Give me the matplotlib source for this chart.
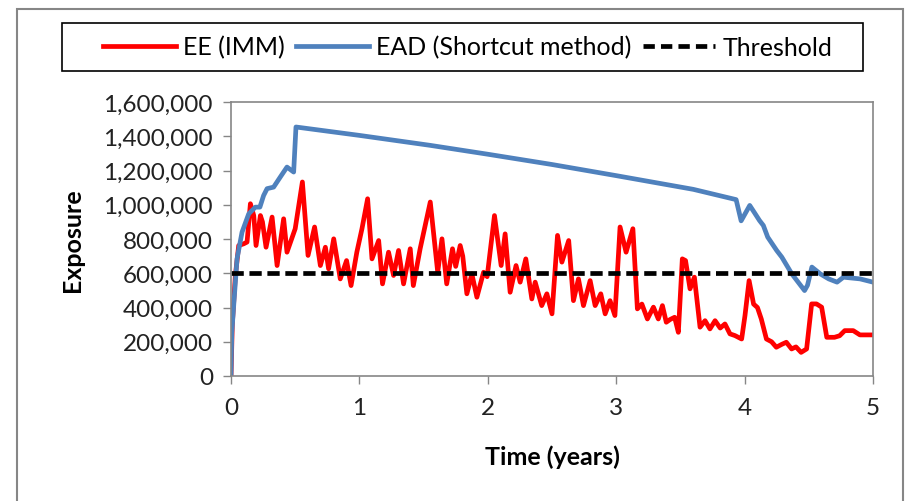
import matplotlib
matplotlib.use("Agg")
import matplotlib.pyplot as plt
import matplotlib.ticker as mtick
from matplotlib.lines import Line2D
from matplotlib.patches import Rectangle

plt.rcParams['font.family'] = ['Lato', 'DejaVu Sans']

# ── Data ──────────────────────────────────────────────────────────────────────
ee_time = [0.000, 0.010, 0.034, 0.060, 0.099, 0.125, 0.151, 0.177, 0.195, 0.229,
           0.245, 0.273, 0.320, 0.359, 0.410, 0.436, 0.500, 0.556, 0.600, 0.651,
           0.696, 0.735, 0.760, 0.800, 0.851, 0.900, 0.935, 0.980, 1.020, 1.064,
           1.098, 1.150, 1.180, 1.227, 1.266, 1.305, 1.344, 1.396, 1.420, 1.473,
           1.552, 1.610, 1.643, 1.680, 1.725, 1.750, 1.785, 1.805, 1.837, 1.876,
           1.915, 1.967, 1.995, 2.052, 2.104, 2.135, 2.174, 2.220, 2.252, 2.296,
           2.343, 2.369, 2.420, 2.460, 2.500, 2.543, 2.577, 2.630, 2.667, 2.706,
           2.745, 2.797, 2.836, 2.880, 2.914, 2.952, 2.990, 3.030, 3.077, 3.130,
           3.165, 3.200, 3.243, 3.290, 3.328, 3.360, 3.390, 3.420, 3.455, 3.484,
           3.515, 3.540, 3.575, 3.609, 3.653, 3.692, 3.730, 3.770, 3.810, 3.847,
           3.886, 3.925, 3.977, 4.003, 4.035, 4.070, 4.100, 4.130, 4.170, 4.210,
           4.247, 4.290, 4.325, 4.366, 4.400, 4.440, 4.483, 4.522, 4.560, 4.600,
           4.640, 4.700, 4.740, 4.780, 4.846, 4.898, 5.000]
ee_value = [0, 300, 587, 762, 772, 782, 1006, 937, 762, 937,
            900, 752, 928, 645, 918, 723, 860, 1133, 704, 870,
            645, 752, 626, 801, 567, 674, 528, 723, 860, 1035,
            684, 791, 538, 723, 587, 733, 538, 743, 528, 743,
            1016, 606, 801, 538, 743, 640, 762, 700, 480, 596,
            460, 606, 580, 937, 645, 830, 489, 645, 548, 684,
            450, 548, 411, 480, 363, 821, 665, 791, 440, 567,
            411, 557, 411, 480, 363, 440, 353, 870, 723, 860,
            392, 420, 333, 402, 333, 411, 314, 330, 343, 255,
            684, 674, 509, 577, 285, 323, 275, 323, 280, 304,
            246, 236, 216, 353, 557, 420, 400, 333, 216, 200,
            168, 185, 197, 158, 170, 138, 158, 421, 421, 402,
            226, 226, 235, 265, 265, 240, 240]
ee_value = [v * 1000 for v in ee_value]

ead_time = [0.000, 0.006, 0.021, 0.047, 0.086, 0.138, 0.190, 0.225, 0.254, 0.281,
            0.332, 0.384, 0.436, 0.488, 0.506, 1.000, 1.550, 2.000, 2.500, 3.000,
            3.600, 3.934, 3.973, 4.040, 4.080, 4.116, 4.146, 4.180, 4.250, 4.290,
            4.368, 4.467, 4.490, 4.524, 4.590, 4.655, 4.720, 4.770, 4.900, 5.000]
ead_value = [0, 250, 411, 684, 840, 947, 986, 986, 1054, 1094,
             1103, 1162, 1220, 1191, 1454, 1405, 1347, 1295, 1235, 1170,
             1090, 1030, 906, 996, 950, 908, 879, 811, 733, 694,
             596, 499, 530, 636, 596, 567, 548, 577, 567, 548]
ead_value = [v * 1000 for v in ead_value]

threshold_time = [0, 5]
threshold_value = [600000, 600000]

x_ticks = [0, 1, 2, 3, 4, 5]
y_ticks = [0, 200000, 400000, 600000, 800000, 1000000, 1200000, 1400000, 1600000]

RED = "#FF0000"
BLUE = "#4F81BD"
GRAY = "#868686"
LW = 3.4

# ── Plot ──────────────────────────────────────────────────────────────────────
fig = plt.figure(figsize=(9.06, 5.02), dpi=100)
ax = fig.add_axes([231 / 906, 1 - 377 / 502, 642 / 906, 274 / 502])

ax.plot(ee_time, ee_value, color=RED, linewidth=LW,
        solid_joinstyle='round', solid_capstyle='round')
ax.plot(ead_time, ead_value, color=BLUE, linewidth=LW,
        solid_joinstyle='round', solid_capstyle='round')
ax.plot(threshold_time, threshold_value, color='black', linewidth=LW,
        linestyle=(0, (2.6, 1.2)))

ax.set_xlim(0, 5)
ax.set_ylim(0, 1600000)
ax.set_xticks(x_ticks)
ax.set_yticks(y_ticks)
ax.yaxis.set_major_formatter(mtick.StrMethodFormatter('{x:,.0f}'))
ax.tick_params(axis='both', direction='out', length=6, width=1, color=GRAY,
               labelsize=17.5, labelcolor='#222222')
ax.tick_params(axis='y', pad=7)
ax.tick_params(axis='x', pad=9)
for side in ['left', 'bottom', 'top', 'right']:
    ax.spines[side].set_color(GRAY)
    ax.spines[side].set_linewidth(1.2)

ax.set_ylabel('Exposure', fontsize=18, fontweight='bold', labelpad=14)
ax.set_xlabel('Time (years)', fontsize=18, fontweight='bold', labelpad=19)

# outer chart frame and legend box
fig.patches.append(Rectangle((17 / 906, -0.05), 886 / 906, 1.05 - 10 / 502,
                             transform=fig.transFigure, fill=False,
                             edgecolor=GRAY, linewidth=1.5))
fig.patches.append(Rectangle((62 / 906, 1 - 72 / 502), 801 / 906, 48 / 502,
                             transform=fig.transFigure, fill=False,
                             edgecolor='black', linewidth=1.2))

handles = [Line2D([], [], color=RED, linewidth=LW),
           Line2D([], [], color=BLUE, linewidth=LW),
           Line2D([], [], color='black', linewidth=LW, linestyle=(0, (2.4, 1.3)))]
labels = ['EE (IMM)', 'EAD (Shortcut method)', 'Threshold']
leg = fig.legend(handles, labels, loc='center', ncol=3, fontsize=18,
                 bbox_to_anchor=(468 / 906, 1 - 48 / 502),
                 frameon=False, handlelength=2.9, handletextpad=0.3,
                 columnspacing=0.45, borderaxespad=0)

plt.savefig('out.png', dpi=100)
